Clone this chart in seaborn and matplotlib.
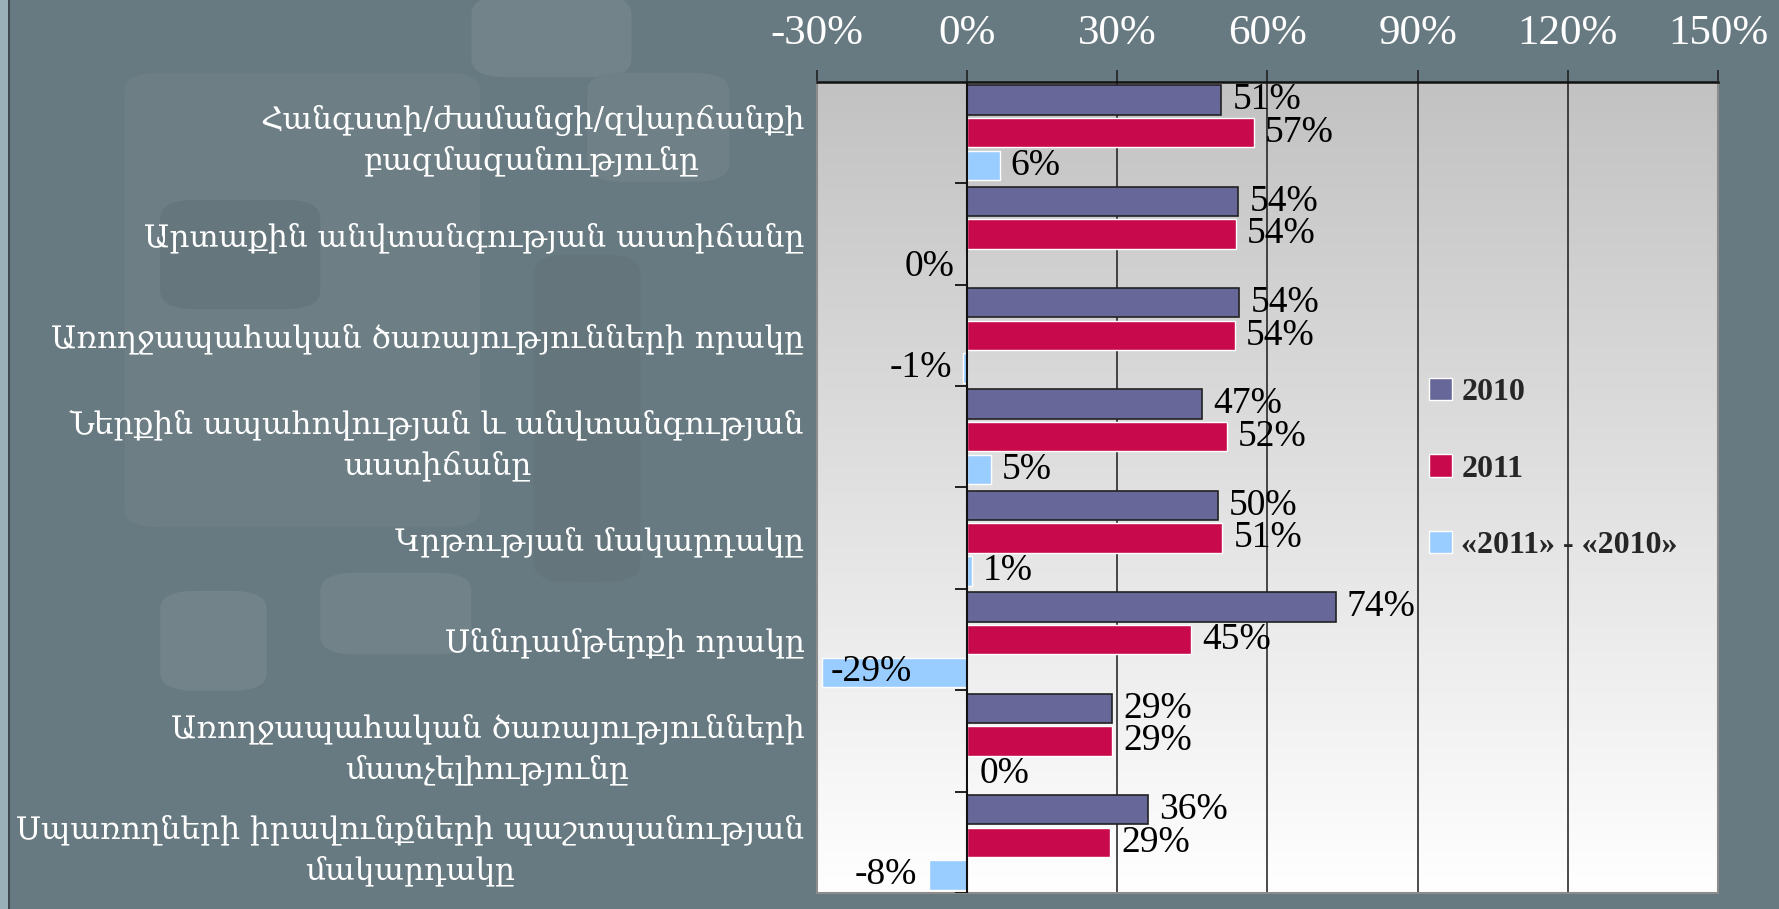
"""Grouped horizontal bar chart: satisfaction scores 2010 vs 2011 and their difference."""

import numpy as np
import pandas as pd
import seaborn as sns
import matplotlib.pyplot as plt
from matplotlib.patches import FancyBboxPatch, Rectangle

CATEGORIES = [
    "Հանգստի/ժամանցի/զվարճանքի\nբազմազանությունը",
    "Արտաքին անվտանգության աստիճանը",
    "Առողջապահական ծառայությունների որակը",
    "Ներքին ապահովության և անվտանգության\nաստիճանը",
    "Կրթության մակարդակը",
    "Սննդամթերքի որակը",
    "Առողջապահական ծառայությունների\nմատչելիությունը",
    "Սպառողների իրավունքների պաշտպանության\nմակարդակը",
]
SERIES = ["2010", "2011", "«2011» - «2010»"]
VALUES_2010 = [50.8, 54.2, 54.4, 47.0, 50.1, 73.6, 28.9, 36.1]
VALUES_2011 = [57.3, 53.7, 53.5, 51.9, 51.0, 44.7, 28.9, 28.6]
VALUES_DIFF = [6.5, -0.2, -0.8, 4.7, 0.9, -28.9, 0.2, -7.7]
X_TICKS = [-30, 0, 30, 60, 90, 120, 150]

COLORS = {"2010": "#676799", "2011": "#C80A4C", "«2011» - «2010»": "#99CCFF"}
BG = "#687A81"
NUM_FONT = ["Liberation Serif", "DejaVu Serif"]
ARM_FONT = ["DejaVu Serif"]

df = pd.DataFrame({
    "category": CATEGORIES * 3,
    "series": [s for s in SERIES for _ in CATEGORIES],
    "value": VALUES_2010 + VALUES_2011 + VALUES_DIFF,
})

sns.set_theme(style="white")
plt.rcParams["font.family"] = NUM_FONT

fig = plt.figure(figsize=(17.79, 9.09), dpi=100, facecolor=BG)

# faint background shapes, kept behind everything
for (x, y, w, h, c) in [
    (0.265, 0.915, 0.09, 0.09, "#728389"),
    (0.07, 0.42, 0.20, 0.50, "#6D7E85"),
    (0.09, 0.66, 0.09, 0.12, "#65777D"),
    (0.09, 0.24, 0.06, 0.11, "#72838A"),
    (0.18, 0.28, 0.085, 0.09, "#718288"),
    (0.30, 0.36, 0.06, 0.36, "#64757B"),
    (0.33, 0.80, 0.08, 0.12, "#6F8086"),
]:
    fig.patches.append(FancyBboxPatch((x, y), w, h, boxstyle="round,pad=0,rounding_size=0.02",
                                      transform=fig.transFigure, fc=c, ec="none", zorder=-2))
fig.patches.append(Rectangle((0, 0), 0.0045, 1, transform=fig.transFigure, fc="#9AB0B8",
                             ec="none", zorder=-1))
fig.patches.append(Rectangle((0.0045, 0), 0.0012, 1, transform=fig.transFigure, fc="#3E4A4F",
                             ec="none", zorder=-1))

ax = fig.add_axes([0.4592, 0.0176, 0.5065, 0.8922])

# plot area gradient (grey on top, white at bottom)
grad = np.linspace(0, 1, 256).reshape(-1, 1)
ax.imshow(grad, extent=[0, 1, 0, 1], transform=ax.transAxes, aspect="auto",
          cmap=sns.blend_palette(["#C2C2C2", "#FFFFFF"], as_cmap=True), zorder=0)

sns.barplot(data=df, x="value", y="category", hue="series", orient="h",
            palette=COLORS, width=0.966, gap=0.1, saturation=1, ax=ax, zorder=2)

for bar in ax.containers[0]:
    bar.set_edgecolor("#222222")
    bar.set_linewidth(1.2)

ax.set_xlim(-30, 150)
ax.set_ylim(len(CATEGORIES) - 0.5, -0.5)
ax.set_xticks(X_TICKS)
ax.set_xticklabels([f"{t}%" for t in X_TICKS])
ax.xaxis.tick_top()
ax.tick_params(axis="x", top=True, bottom=False, direction="out", length=9, width=1.2,
               color="#222222", labelsize=31, labelcolor="white", pad=12)
ax.tick_params(axis="y", left=False, labelsize=22.5, labelcolor="white", pad=3)
for lab in ax.get_yticklabels():
    lab.set_family(ARM_FONT)
    lab.set_multialignment("center")
    lab.set_linespacing(1.4)
ax.set_xlabel("")
ax.set_ylabel("")

ax.grid(False)
for t in X_TICKS[1:-1]:
    ax.axvline(t, color="#1A1A1A", lw=1.1, zorder=1)
ax.axvline(0, color="#111111", lw=1.5, zorder=3)
ax.hlines(np.arange(0.5, len(CATEGORIES)), -2.5, 0, color="#111111", lw=1.3, zorder=3)

for side in ["left", "right", "bottom"]:
    ax.spines[side].set_color("#8C8C8C")
    ax.spines[side].set_linewidth(1.5)
ax.spines["top"].set_color("#111111")
ax.spines["top"].set_linewidth(1.8)

# value labels
for container in ax.containers:
    for bar in container:
        v = bar.get_width()
        yc = bar.get_y() + bar.get_height() / 2
        txt = f"{int(round(v))}%"
        if v < -20:
            off, ha = 6, "left"
        elif v < 0:
            off, ha = -8, "right"
        else:
            off, ha = 8, "left"
        ax.annotate(txt, (v, yc), xytext=(off, 0), textcoords="offset points",
                    ha=ha, va="center", fontsize=27, color="black", zorder=4)

handles, labels = ax.get_legend_handles_labels()
ax.legend(handles, labels, loc="center left", bbox_to_anchor=(0.662, 0.523), frameon=False,
          prop={"family": NUM_FONT, "weight": "bold", "size": 23},
          handlelength=0.7, handleheight=0.7, handletextpad=0.3, labelspacing=1.48,
          borderpad=0)

fig.savefig("out.png", dpi=100, facecolor=BG)
